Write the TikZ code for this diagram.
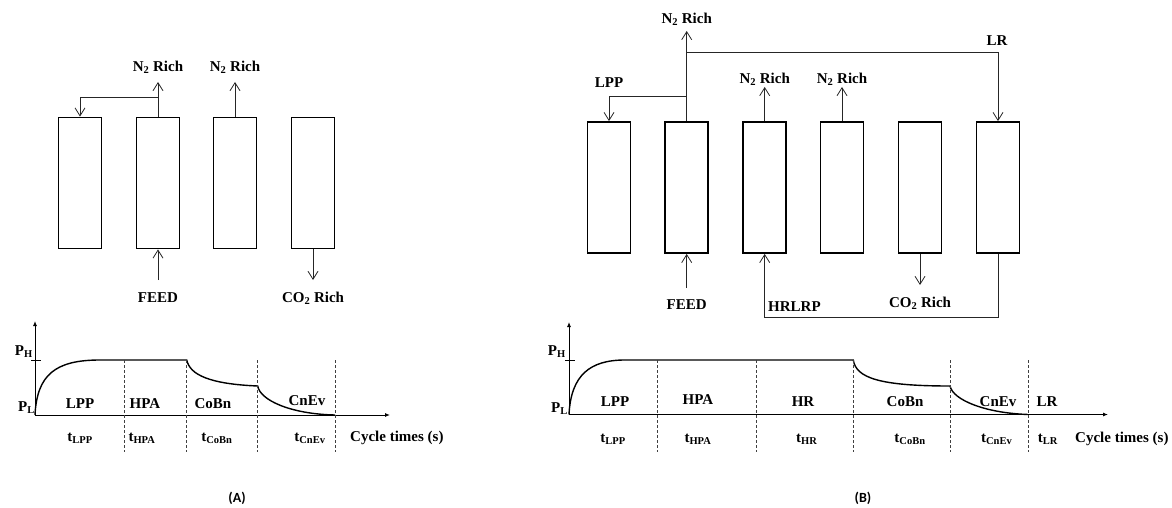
\documentclass[tikz,border=0pt]{standalone}
\usepackage{fontspec}
\setmainfont{Liberation Serif}
\newfontfamily\capfont{Carlito}
\usetikzlibrary{arrows.meta,calc,positioning}
\tikzset{
  bed/.style={draw,line width=1.8pt,minimum width=43pt,minimum height=131pt,
    inner sep=0pt},
  flow/.style={-{Straight Barb[length=8pt,width=10pt]},line width=0.8pt,
    draw=black!85},
  axisline/.style={-{Latex[length=5pt,width=4pt]},line width=0.9pt},
  pressure/.style={line width=1.4pt},
  stepline/.style={line width=0.7pt,dash pattern=on 3pt off 2pt,draw=black!75},
  smalllabel/.style={font=\fontsize{15}{17}\selectfont\bfseries,inner sep=0pt},
  panellabel/.style={font=\fontsize{14}{16}\selectfont\capfont\bfseries,
    inner sep=0pt}
}

\begin{document}
\begin{tikzpicture}[x=1pt,y=-1pt]
  \useasboundingbox (0,0) rectangle (1172,508);
  % ---- panel A: beds
  \foreach \i/\x in {1/80,2/158,3/235,4/313}
    {\node[bed] (a\i) at (\x,183) {};}
  \coordinate (a2up) at (158,82);
  \coordinate (a2split) at (158,97);
  \coordinate (a3up) at (235,82);
  \coordinate (feedA) at (158,280);
  \coordinate (a4down) at (313,280);
  \draw[flow] (a2.north) -- (a2up);
  \draw[flow] (a2split) -| (a1.north);
  \draw[flow] (a3.north) -- (a3up);
  \draw[flow] (feedA) -- (a2.south);
  \draw[flow] (a4.south) -- (a4down);
  \node[smalllabel] (nA2) at (158,67) {N\textsubscript{2} Rich};
  \node[smalllabel] (nA3) at (235,67) {N\textsubscript{2} Rich};
  \node[smalllabel] (feedAl) at (158,298) {FEED};
  \node[smalllabel] (coA) at (313,298) {CO\textsubscript{2} Rich};
  % ---- panel A: pressure profile
  \coordinate (oA) at (35,415);
  \coordinate (yA) at (35,321);
  \coordinate (xA) at (390,415);
  \draw[axisline] (oA) -- (yA);
  \draw[axisline] (oA) -- (xA);
  \draw[line width=0.7pt] (31,360) -- (41,360);
  \node[smalllabel,anchor=east] (phA) at (33,352) {P\textsubscript{H}};
  \node[smalllabel,anchor=east] (plA) at (35,408) {P\textsubscript{L}};
  \draw[pressure] (oA) .. controls (37,375) and (55,360) .. (100,360)
    -- (186.7,360) .. controls (190,375) and (210,384) .. (257.7,386)
    .. controls (260,400) and (290,414) .. (335,415);
  \foreach \x in {124,186.7,257.7,335}
    {\draw[stepline] (\x,360) -- (\x,452);}
  \node[smalllabel] at (80,404) {LPP};
  \node[smalllabel] at (145,404) {HPA};
  \node[smalllabel] at (213,404) {CoBn};
  \node[smalllabel] at (307,401) {CnEv};
  \node[smalllabel] at (80,438) {t\textsubscript{LPP}};
  \node[smalllabel] at (142,438) {t\textsubscript{HPA}};
  \node[smalllabel] at (217,438) {t\textsubscript{CoBn}};
  \node[smalllabel] at (310,438) {t\textsubscript{CnEv}};
  \node[smalllabel,anchor=west] at (350,438) {Cycle times (s)};
  \node[panellabel] (capA) at (237,498) {(A)};
  % ---- panel B: beds
  \foreach \i/\x in {1/609,2/686.7,3/764.7,4/842,5/920,6/998}
    {\node[bed] (b\i) at (\x,187.5) {};}
  \coordinate (b2up) at (686.7,31);
  \coordinate (b2lr) at (686.7,52.7);
  \coordinate (b2lpp) at (686.7,96);
  \coordinate (b3up) at (764.7,87);
  \coordinate (b4up) at (842,87);
  \coordinate (feedB) at (686.7,288);
  \coordinate (b5down) at (920,285);
  \coordinate (loopB) at (764.7,317.7);
  \draw[flow] (b2.north) -- (b2up);
  \draw[flow] (b2lpp) -| (b1.north);
  \draw[flow] (b2lr) -| (b6.north);
  \draw[flow] (b3.north) -- (b3up);
  \draw[flow] (b4.north) -- (b4up);
  \draw[flow] (feedB) -- (b2.south);
  \draw[flow] (b5.south) -- (b5down);
  \draw[flow] (b6.south) |- (loopB) -- (b3.south);
  \node[smalllabel] (nB2) at (686.7,19) {N\textsubscript{2} Rich};
  \node[smalllabel] (lppB) at (609,83) {LPP};
  \node[smalllabel] (lrB) at (997,41) {LR};
  \node[smalllabel] (nB3) at (764.7,79) {N\textsubscript{2} Rich};
  \node[smalllabel] (nB4) at (842,79) {N\textsubscript{2} Rich};
  \node[smalllabel] (feedBl) at (686.7,305) {FEED};
  \node[smalllabel,anchor=west] (hrlrp) at (768,307) {HRLRP};
  \node[smalllabel] (coB) at (920,303) {CO\textsubscript{2} Rich};
  % ---- panel B: pressure profile
  \coordinate (oB) at (569,414.5);
  \coordinate (yB) at (569,322);
  \coordinate (xB) at (1108,414.5);
  \draw[axisline] (oB) -- (yB);
  \draw[axisline] (oB) -- (xB);
  \draw[line width=0.7pt] (565,360) -- (575,360);
  \node[smalllabel,anchor=east] (phB) at (566,352) {P\textsubscript{H}};
  \node[smalllabel,anchor=east] (plB) at (568,409) {P\textsubscript{L}};
  \draw[pressure] (oB) .. controls (571,375) and (590,360) .. (625,360)
    -- (853.3,360) .. controls (856,378) and (880,386) .. (950,386)
    .. controls (953,400) and (985,413) .. (1028,414.5);
  \foreach \x in {657.7,756.7,853.3,950,1028}
    {\draw[stepline] (\x,360) -- (\x,452);}
  \node[smalllabel] at (615,402) {LPP};
  \node[smalllabel] at (698,400) {HPA};
  \node[smalllabel] at (803,402) {HR};
  \node[smalllabel] at (905,402) {CoBn};
  \node[smalllabel] at (998,402) {CnEv};
  \node[smalllabel] at (1047,402) {LR};
  \node[smalllabel] at (613,439) {t\textsubscript{LPP}};
  \node[smalllabel] at (698,439) {t\textsubscript{HPA}};
  \node[smalllabel] at (806.7,439) {t\textsubscript{HR}};
  \node[smalllabel] at (910,439) {t\textsubscript{CoBn}};
  \node[smalllabel] at (996.7,439) {t\textsubscript{CnEv}};
  \node[smalllabel] at (1048,439) {t\textsubscript{LR}};
  \node[smalllabel,anchor=west] at (1075,439) {Cycle times (s)};
  \node[panellabel] (capB) at (863,498) {(B)};
\end{tikzpicture}
\end{document}
